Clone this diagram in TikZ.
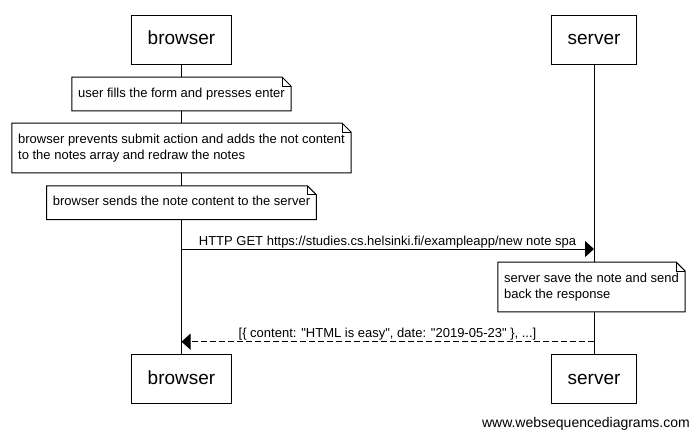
\documentclass[tikz,border=0pt]{standalone}
\usepackage{fontspec}
\setmainfont{Liberation Sans}[Ligatures=TeXOff]
\usetikzlibrary{arrows.meta}
\tikzset{
  actor/.style={draw,line width=1pt,fill=white,minimum height=49pt,inner xsep=16.5pt,text height=14pt,text depth=4pt,font=\fontsize{19}{22}\selectfont},
  notebox/.style={fill=white,inner xsep=6pt,inner ysep=10pt,text height=10pt,text depth=3.5pt,align=left,font=\fontsize{13}{16}\selectfont},
  twolines/.style={text height=26pt},
  msg/.style={anchor=base,inner sep=0pt,font=\fontsize{13}{16}\selectfont},
  call/.style={line width=1pt,-{Triangle[length=9pt,width=16pt]}},
  answer/.style={call,dash pattern=on 6pt off 3pt}
}
% outline of a note with its folded corner
\newcommand{\noteframe}[1]{
  \draw[line width=1pt] (#1.north west) -- ([xshift=-9pt]#1.north east) -- ([yshift=-9pt]#1.north east)
    -- (#1.south east) -- (#1.south west) -- cycle;
  \draw[line width=1pt] ([xshift=-9pt]#1.north east) |- ([yshift=-9pt]#1.north east);
}
\begin{document}
\begin{tikzpicture}[x=1pt,y=-1pt]
  \useasboundingbox (0,0) rectangle (697,439);
  % participants
  \node[actor] (btop) at (181.5,39.5) {browser};
  \node[actor] (stop) at (594,39.5) {server};
  \node[actor] (bbot) at (181.5,379) {browser};
  \node[actor] (sbot) at (594,379) {server};
  \draw[line width=1pt] (btop) -- (bbot);
  \draw[line width=1pt] (stop) -- (sbot);
  % notes
  \node[notebox] (fill) at (181.5,94) {user fills the form and presses enter};
  \noteframe{fill}
  \node[notebox,twolines] (redraw) at (181.5,148) {browser prevents submit action and adds the not content\\to the notes array and redraw the notes};
  \noteframe{redraw}
  \node[notebox] (send) at (181.5,202.7) {browser sends the note content to the server};
  \noteframe{send}
  \node[notebox,twolines] (save) at (591.5,287) {server save the note and send\\back the response};
  \noteframe{save}
  % messages
  \coordinate (req b) at (181.5,249);
  \coordinate (req s) at (594,249);
  \coordinate (res s) at (594,341.7);
  \coordinate (res b) at (181.5,341.7);
  \draw[call] (req b) -- (req s);
  \node[msg] (req) at (387.5,245) {HTTP GET https://studies.cs.helsinki.fi/exampleapp/new note spa};
  \draw[answer] (res s) -- (res b);
  \node[msg] (res) at (387.5,337.7) {[\{ content: "HTML is easy", date: "2019-05-23" \}, ...]};
  \node[anchor=base east,inner sep=0pt,font=\fontsize{14}{16}\selectfont] (mark) at (690,427) {www.websequencediagrams.com};
\end{tikzpicture}
\end{document}
